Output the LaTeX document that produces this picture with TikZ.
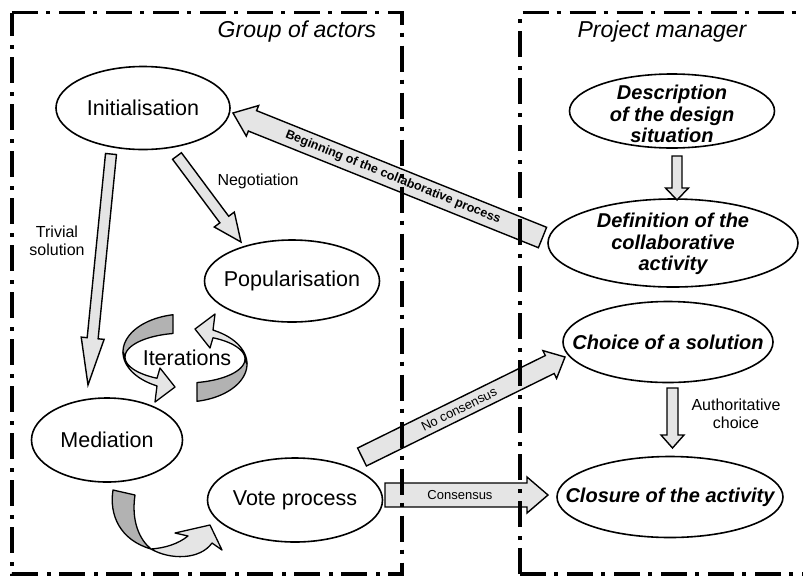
\documentclass[tikz,border=0pt]{standalone}
\usepackage{fontspec}
\setmainfont{Liberation Sans}
\usetikzlibrary{shapes.geometric,calc}
\newcommand{\fatarrow}[5]{%
  \coordinate (FAh) at ($(#2)!#5!(#1)$);
  \filldraw[fatarr] ($(#1)!#3!90:(#2)$) -- ($(FAh)!#3!90:(#2)$) -- ($(FAh)!#4!90:(#2)$) -- (#2)
    -- ($(FAh)!#4!-90:(#2)$) -- ($(FAh)!#3!-90:(#2)$) -- ($(#1)!#3!-90:(#2)$) -- cycle;}
\newcommand{\iterarrow}{%
  \filldraw[darkseg] plot[domain=258.8:180,samples=30] ({185+62*cos(\x)},{352+38*sin(\x)})
    -- plot[domain=180:258.5,samples=30] ({185+60*cos(\x)},{357+24*sin(\x)}) -- cycle;
  \filldraw[lightseg] plot[domain=180:117.8,samples=30] ({185+60*cos(\x)},{357+24*sin(\x)})
    -- (160,368) -- (175,387) -- (155,402)
    -- plot[domain=116.85:180,samples=30] ({185+62*cos(\x)},{352+38*sin(\x)}) -- cycle;}
\tikzset{
  ell/.style={draw, line width=1.6pt, ellipse, inner sep=0pt},
  ellt/.style={font=\fontsize{21.5}{24}\selectfont},
  ellr/.style={font=\fontsize{20}{21.5}\selectfont\bfseries\itshape, align=center},
  ttl/.style={font=\fontsize{23}{26}\selectfont\itshape},
  lab/.style={font=\fontsize{16}{18}\selectfont, align=center},
  albl/.style={font=\fontsize{13}{15}\selectfont, inner sep=0pt},
  fatarr/.style={draw=black, line width=1.4pt, fill=black!10, line join=miter},
  darkseg/.style={draw=black, line width=1.3pt, fill=black!30, line join=round},
  lightseg/.style={draw=black, line width=1.3pt, fill=black!10, line join=round},
  box/.style={line width=3.8pt, dash pattern=on 26pt off 8pt on 4pt off 9pt}
}
\begin{document}
\begin{tikzpicture}[x=1pt,y=-1pt]
\clip (0,0) rectangle (803,579);
\useasboundingbox (0,0) rectangle (803,579);

% titles
\node[ttl, anchor=base] (tga) at (297,37) {Group of actors};
\node[ttl, anchor=base] (tpm) at (662,37) {Project manager};

% ellipses (left)
\node[ell, minimum width=174pt, minimum height=83pt, label={[ellt]center:Initialisation}] (init) at (143,108) {};
\node[ell, minimum width=175pt, minimum height=82pt, label={[ellt]center:Popularisation}] (pop) at (292,281) {};
\node[ell, minimum width=151pt, minimum height=84pt, label={[ellt]center:Mediation}] (med) at (107,440) {};
\node[ell, minimum width=175pt, minimum height=84pt, label={[ellt]center:Vote process}] (vote) at (295,500) {};

% ellipses (right)
\node[ell, minimum width=205pt, minimum height=74pt, label={[ellr, yshift=-3pt]center:Description\\of the design\\situation}] (desc) at (672,111) {};
\node[ell, minimum width=250pt, minimum height=88pt, label={[ellr, yshift=-1pt]center:Definition of the\\collaborative\\activity}] (def) at (673,243) {};
\node[ell, minimum width=210pt, minimum height=81pt, label={[ellr]center:Choice of a solution}] (choice) at (668,342) {};
\node[ell, minimum width=226pt, minimum height=81pt, label={[ellr]center:Closure of the activity}] (clos) at (670,497) {};

% arrow end points
\coordinate (trivS) at (111,154);   \coordinate (trivE) at (88,385);
\coordinate (negS) at (177,156);    \coordinate (negE) at (241,242);
\coordinate (begS) at (542.5,237.5);\coordinate (begE) at (233,113);
\coordinate (ddS) at (677,156);     \coordinate (ddE) at (677,200);
\coordinate (autS) at (672.5,388);  \coordinate (autE) at (672.5,448);
\coordinate (ncS) at (362,457);     \coordinate (ncE) at (565,357);
\coordinate (cS) at (385,495);      \coordinate (cE) at (548,495);

% block arrows
\fatarrow{trivS}{trivE}{5.5pt}{11.5pt}{47pt}
\fatarrow{negS}{negE}{5.5pt}{12.5pt}{28pt}
\fatarrow{begS}{begE}{11pt}{16.5pt}{21pt}
\fatarrow{ddS}{ddE}{5pt}{11.5pt}{12pt}
\fatarrow{autS}{autE}{5.5pt}{11.5pt}{13pt}
\fatarrow{ncS}{ncE}{10pt}{15.5pt}{17pt}
\fatarrow{cS}{cE}{12pt}{18pt}{21pt}

% arrow labels
\path (begS) -- (begE) node[albl, font=\fontsize{12.5}{14}\selectfont\bfseries, sloped, pos=0.483] (lbeg) {Beginning of the collaborative process};
\path (ncS) -- (ncE) node[albl, sloped, pos=0.478] (lnc) {No consensus};
\path (cS) -- (cE) node[albl, pos=0.46] (lc) {Consensus};

% free labels
\node[lab] (lneg) at (258,181) {Negotiation};
\node[lab] (ltriv) at (57,241) {Trivial\\solution};
\node[lab] (lauth) at (736,414) {Authoritative\\choice};

% iteration arrows
\iterarrow
\begin{scope}[rotate around={180:(185,358)}]
\iterarrow
\end{scope}
\node[ellt] (liter) at (187,358) {Iterations};

% mediation -> vote curved arrow
\filldraw[darkseg] (113,490) .. controls (109,515) and (120,540) .. (151,549)
  .. controls (140,540) and (131,522) .. (135,495) -- cycle;
\filldraw[lightseg] (151,549) .. controls (170,560) and (200,560) .. (212,543)
  -- (222,550) -- (210,525) -- (175,533) -- (188,536)
  .. controls (178,544) and (165,548) .. (151,549) -- cycle;

% swimlane boxes
\draw[box] (12,12.5) -- (402,12.5) -- (402,574) -- (12,574) -- cycle;
\draw[box] (520,574) -- (520,12.5) -- (815,12.5);
\draw[box] (520,574) -- (815,574);
\end{tikzpicture}
\end{document}
